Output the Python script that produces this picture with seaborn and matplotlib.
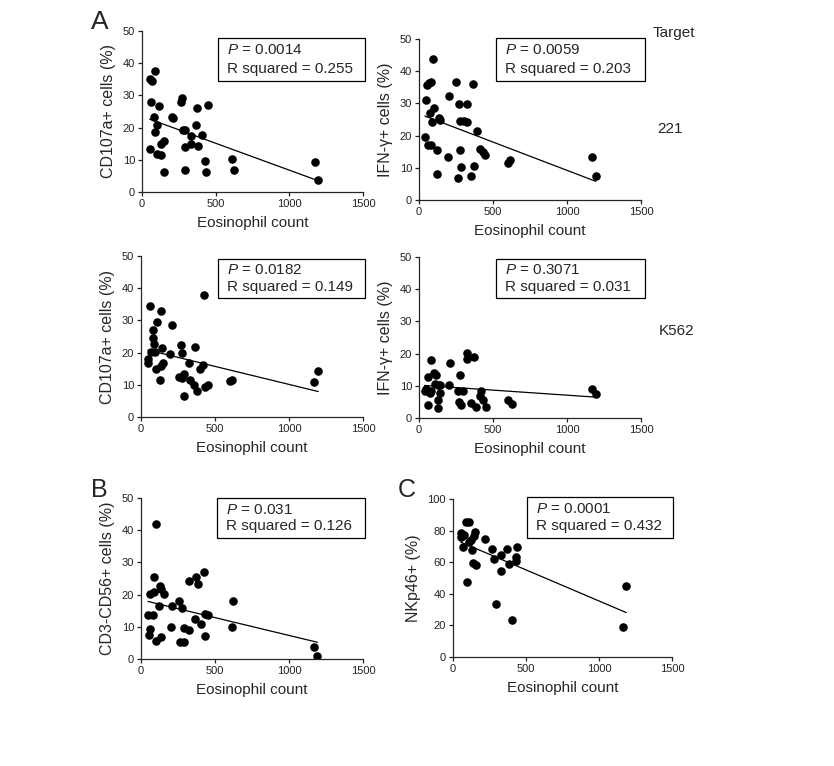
import numpy as np
import matplotlib
matplotlib.use("Agg")
import matplotlib.pyplot as plt
from matplotlib.patches import Rectangle
import seaborn as sns

sns.set_style("ticks")
plt.rcParams['font.family'] = ['Liberation Sans', 'DejaVu Sans']
plt.rcParams['mathtext.fontset'] = 'custom'
plt.rcParams['mathtext.it'] = 'Liberation Sans:italic'
plt.rcParams['mathtext.rm'] = 'Liberation Sans'

# ---- data ----
# 221 target, CD107a+
x1 = [52, 70, 85, 63, 114, 83, 105, 87, 52, 103, 132, 132, 146, 152, 202, 213, 262, 271, 280, 294,
      294, 289, 330, 330, 365, 370, 381, 404, 428, 433, 451, 609, 627, 1173, 1196]
y1 = [35.0, 34.6, 37.5, 28.1, 26.8, 23.4, 20.9, 18.5, 13.5, 11.7, 11.5, 15.0, 15.7, 6.2, 23.4, 23.0,
      28.1, 29.2, 19.3, 19.3, 14.1, 6.8, 17.4, 14.8, 20.8, 26.0, 14.3, 17.8, 9.5, 6.3, 27.0, 10.2,
      6.9, 9.4, 3.6]
# 221 target, IFN-g+
x2 = [96, 54, 70, 81, 45, 74, 103, 90, 132, 139, 40, 58, 83, 123, 123, 206, 195, 251, 269, 321,
      280, 305, 327, 363, 280, 283, 265, 372, 354, 395, 415, 430, 444, 599, 617, 1168, 1195]
y2 = [43.8, 35.8, 36.3, 36.5, 31.1, 27.0, 28.5, 24.1, 25.6, 24.9, 19.6, 17.1, 17.1, 15.6, 8.2, 32.2,
      13.3, 36.8, 29.8, 29.8, 24.6, 24.4, 24.1, 36.0, 15.4, 10.2, 6.9, 10.7, 7.4, 21.5, 15.7, 14.8,
      14.1, 11.5, 12.3, 13.3, 7.6]
# K562 target, CD107a+
x3 = [60, 132, 109, 80, 80, 87, 47, 47, 67, 96, 98, 129, 136, 150, 145, 210, 199, 268, 275, 257,
      275, 290, 290, 324, 333, 368, 359, 377, 400, 417, 424, 435, 451, 600, 618, 1170, 1197]
y3 = [34.4, 33.0, 29.4, 27.1, 24.5, 22.8, 17.9, 16.8, 20.3, 20.3, 14.8, 11.6, 15.8, 16.9, 21.3, 28.6,
      19.5, 22.3, 20.0, 12.4, 12.1, 13.2, 6.4, 16.9, 11.4, 21.7, 9.9, 8.0, 15.0, 16.1, 38.0, 9.3,
      9.9, 11.1, 11.4, 11.0, 14.3]
# K562 target, IFN-g+
x4 = [79, 61, 99, 113, 38, 50, 72, 84, 61, 106, 129, 144, 144, 129, 129, 208, 201, 275, 264, 296,
      269, 287, 327, 327, 370, 354, 384, 422, 411, 433, 456, 603, 625, 1167, 1194]
y4 = [17.9, 12.7, 14.0, 13.5, 8.4, 9.1, 7.9, 8.4, 4.1, 10.5, 10.2, 10.1, 7.7, 5.5, 3.2, 17.1,
      10.4, 13.5, 8.4, 8.4, 5.0, 3.9, 20.3, 18.2, 18.9, 4.7, 3.4, 8.4, 6.8, 5.5, 3.4, 5.5, 4.5,
      8.9, 7.3]
# B: CD3-CD56+
x5 = [103, 85, 58, 85, 47, 79, 58, 52, 103, 119, 130, 137, 153, 137, 207, 202, 254, 276, 265, 288,
      288, 326, 326, 373, 382, 429, 366, 404, 433, 433, 456, 624, 613, 1170, 1192]
y5 = [42.0, 25.5, 20.1, 20.7, 13.6, 13.8, 9.2, 7.4, 5.7, 16.5, 22.6, 21.7, 20.1, 6.9, 16.5, 9.8,
      18.1, 15.9, 5.4, 5.2, 9.7, 9.0, 24.2, 25.5, 23.2, 27.0, 12.3, 10.8, 7.1, 13.9, 13.7, 17.9,
      10.0, 3.8, 1.0]
# C: NKp46+
x6 = [92, 110, 56, 67, 52, 78, 70, 112, 132, 146, 152, 137, 157, 94, 217, 265, 280, 332, 372, 383,
      435, 433, 433, 330, 296, 404, 123, 1164, 1187]
y6 = [85.4, 85.4, 78.4, 77.3, 75.8, 76.9, 69.9, 72.7, 67.8, 76.3, 78.8, 59.3, 58.1, 47.5, 74.6, 68.2,
      62.1, 64.8, 68.4, 58.9, 69.5, 63.6, 61.0, 54.2, 33.7, 23.5, 74.2, 19.0, 45.1]

p_vals = ["0.0014", "0.0059", "0.0182", "0.3071", "0.031", "0.0001"]
r_sq = ["0.255", "0.203", "0.149", "0.031", "0.126", "0.432"]
ylabels = ["CD107a+ cells (%)", "IFN-\u03b3+ cells (%)", "CD107a+ cells (%)",
           "IFN-\u03b3+ cells (%)", "CD3-CD56+ cells (%)", "NKp46+ (%)"]
xlabel = "Eosinophil count"
xticks = [0, 500, 1000, 1500]

W, H = 834, 766
fig = plt.figure(figsize=(W / 100, H / 100), dpi=100)


def fx(px):
    return px / W


def fy(py):
    return 1 - py / H


# axes rectangles in pixels: left, top, right, bottom
rects = [(142, 31, 363, 192), (419, 39, 641, 200),
         (141, 256, 363, 417), (419, 257, 641, 418),
         (141, 498, 363, 659), (453, 499, 672, 657)]
# stats boxes in pixels
boxes = [(218, 38, 365, 81), (496, 38, 645, 81),
         (218, 259, 365, 298), (496, 259, 645, 298),
         (217, 498, 365, 538), (527, 497, 673, 538)]

data = [(x1, y1), (x2, y2), (x3, y3), (x4, y4), (x5, y5), (x6, y6)]

for i, ((xs, ys), r, b) in enumerate(zip(data, rects, boxes)):
    l, t, rr, bt = r
    ax = fig.add_axes([fx(l), fy(bt), fx(rr) - fx(l), fy(t) - fy(bt)])
    sns.regplot(x=np.array(xs), y=np.array(ys), ax=ax, ci=None, truncate=True,
                scatter_kws=dict(s=38, color='black', linewidths=0, alpha=1),
                line_kws=dict(color='black', lw=0.9))
    ymax = 100 if i == 5 else 50
    ax.set_xlim(0, 1500)
    ax.set_ylim(0, ymax)
    ax.set_xticks(xticks)
    ax.set_yticks(np.arange(0, ymax + 1, ymax // 5))
    sns.despine(ax=ax)
    for s in ['left', 'bottom']:
        ax.spines[s].set_linewidth(0.9)
    ax.tick_params(length=3, width=0.9, labelsize=8, pad=2, colors='#222')
    ax.set_xlabel(xlabel, fontsize=11, labelpad=5)
    ax.set_ylabel(ylabels[i], fontsize=11.5, labelpad=5)

    x0, y0, x1b, y1b = b
    fig.patches.append(Rectangle((fx(x0), fy(y1b)), fx(x1b) - fx(x0), fy(y0) - fy(y1b),
                                 transform=fig.transFigure, fill=False, ec='black', lw=0.9))
    h = y1b - y0
    fig.text(fx(x0 + 9), fy(y0 + 0.29 * h), r"$\it{P}$ = " + p_vals[i], fontsize=11,
             va='center', ha='left')
    fig.text(fx(x0 + 9), fy(y0 + 0.71 * h), "R squared = " + r_sq[i], fontsize=11,
             va='center', ha='left')

fig.text(fx(100), fy(22), "A", fontsize=19, ha='center', va='center')
fig.text(fx(99), fy(490), "B", fontsize=18, ha='center', va='center')
fig.text(fx(407), fy(490), "C", fontsize=18, ha='center', va='center')
fig.text(fx(674), fy(33), "Target", fontsize=11, ha='center', va='center')
fig.text(fx(670), fy(129), "221", fontsize=11, ha='center', va='center')
fig.text(fx(677), fy(331), "K562", fontsize=11, ha='center', va='center')

fig.savefig("out.png", dpi=100)
